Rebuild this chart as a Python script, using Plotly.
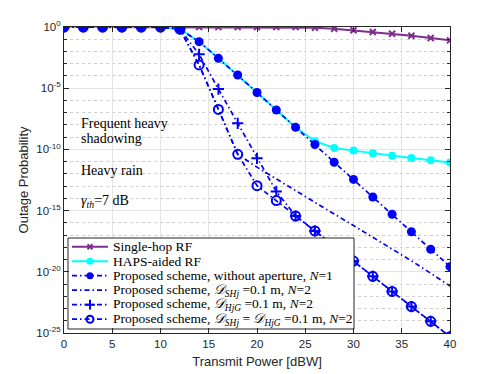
import plotly.graph_objects as go

# transmit power grid (dBW)
power = [0, 2, 4, 6, 8, 10, 12, 14, 16, 18, 20, 22, 24, 26, 28, 30, 32, 34, 36, 38, 40]

single_hop_log = [0, 0, 0, 0, 0, 0, 0, 0, 0, 0, 0, 0, 0, -0.06, -0.14, -0.27,
                  -0.41, -0.55, -0.71, -0.90, -1.09]
haps_log = [0, 0, 0, 0, 0, 0, -0.17, -1.2, -2.56, -3.92, -5.35, -6.78, -8.2,
            -9.33, -9.88, -10.1, -10.32, -10.51, -10.7, -10.89, -11.08]
no_aperture_log = [0, 0, 0, 0, 0, 0, -0.17, -1.2, -2.56, -3.92, -5.35, -6.78, -8.2,
                   -9.6, -11.05, -12.45, -13.89, -15.3, -16.73, -18.16, -19.58]
d_sh_log = [0, 0, 0, 0, 0, 0, -0.17, -3.1, -6.73, -10.4, -11.45, -12.42, -13.38,
            -14.33, -15.28, -16.22, -17.17, -18.12, -19.1, -20.12, -21.16]
d_hg_log = [0, 0, 0, 0, 0, 0, -0.17, -2.23, -5.07, -7.87, -10.73, -13.43, -15.44,
            -16.66, -17.9, -19.12, -20.37, -21.6, -22.84, -24.05, -25.3]
d_both_log = [0, 0, 0, 0, 0, 0, -0.17, -3.1, -6.73, -10.4, -12.96, -14.18, -15.44,
              -16.66, -17.9, -19.12, -20.37, -21.6, -22.84, -24.05, -25.3]

series_names = [
    "Single-hop RF",
    "HAPS-aided RF",
    "Proposed scheme, without aperture, <i>N</i>=1",
    "Proposed scheme, <i>𝒟<sub>SHj</sub></i> =0.1 m, <i>N</i>=2",
    "Proposed scheme, <i>𝒟<sub>HjG</sub></i> =0.1 m, <i>N</i>=2",
    "Proposed scheme, <i>𝒟<sub>SHj</sub></i> = <i>𝒟<sub>HjG</sub></i> =0.1 m, <i>N</i>=2",
]

ytick_exp = [0, -5, -10, -15, -20, -25]
minor_exp = list(range(-25, 1))

BLUE = "#0000FF"
PURPLE = "#7E2F8E"
CYAN = "#00FFFF"
DASH = "5px,3px,1.5px,3px"
serif = "Liberation Serif"
sans = "Liberation Sans"

# style per series: line, marker (None = no marker), marker size in the key
styles = [
    (dict(color=PURPLE, width=2),
     dict(symbol="x-thin", size=6, color=PURPLE, line=dict(color=PURPLE, width=2)), 5),
    (dict(color=CYAN, width=2), dict(symbol="circle", size=8, color=CYAN), 7),
    (dict(color=BLUE, width=1.7, dash=DASH), dict(symbol="circle", size=9, color=BLUE), 7),
    (dict(color=BLUE, width=1.7, dash=DASH), None, 0),
    (dict(color=BLUE, width=1.7, dash=DASH),
     dict(symbol="cross-thin", size=8, color=BLUE, line=dict(color=BLUE, width=2)), 7),
    (dict(color=BLUE, width=1.7, dash=DASH),
     dict(symbol="circle-open", size=9, color=BLUE, line=dict(color=BLUE, width=2)), 7),
]
all_logs = [single_hop_log, haps_log, no_aperture_log, d_sh_log, d_hg_log, d_both_log]


def lin(vals):
    return [10 ** v for v in vals]


fig = go.Figure()
for name, vals, (line, marker, _) in zip(series_names, all_logs, styles):
    fig.add_trace(go.Scatter(
        x=power, y=lin(vals), name=name,
        mode="lines+markers" if marker else "lines",
        line=line, marker=marker or {}, showlegend=False,
    ))

# compact legend drawn on an overlay axis measured in plot pixels
PLOT_W, PLOT_H = 386, 306
box_x0, box_x1, box_y0, box_y1 = 4, 290, 4, 95
row_top, row_step = 86.3, 14.5
fig.add_trace(go.Scatter(
    x=[box_x0, box_x1, box_x1, box_x0, box_x0],
    y=[box_y0, box_y0, box_y1, box_y1, box_y0],
    mode="lines", fill="toself", fillcolor="white",
    line=dict(color="#262626", width=1),
    xaxis="x2", yaxis="y2", showlegend=False, hoverinfo="skip",
))
for i, (name, (line, marker, key_size)) in enumerate(zip(series_names, styles)):
    yk = row_top - i * row_step
    fig.add_trace(go.Scatter(
        x=[8, 44], y=[yk, yk], mode="lines", line=line,
        xaxis="x2", yaxis="y2", showlegend=False, hoverinfo="skip",
    ))
    if marker:
        m = dict(marker)
        m["size"] = key_size
        fig.add_trace(go.Scatter(
            x=[26], y=[yk], mode="markers", marker=m,
            xaxis="x2", yaxis="y2", showlegend=False, hoverinfo="skip",
        ))
    fig.add_annotation(text=name, x=47 / PLOT_W, y=yk / PLOT_H, xref="paper", yref="paper",
                       xanchor="left", yanchor="middle", showarrow=False,
                       font=dict(family=serif, size=13.5, color="black"))

notes = [
    ("Frequent heavy", 0.686),
    ("shadowing", 0.637),
    ("Heavy rain", 0.531),
    ("<i>γ<sub>th</sub></i>=7 dB", 0.43),
]
for txt, yp in notes:
    fig.add_annotation(text=txt, x=0.04, y=yp, xref="paper", yref="paper",
                       xanchor="left", yanchor="middle", showarrow=False,
                       font=dict(family=serif, size=14, color="black"))

axis_common = dict(
    showline=True, linecolor="#262626", linewidth=1, mirror="ticks",
    ticks="inside", ticklen=5, tickcolor="#262626",
    gridcolor="#e3e3e3", gridwidth=1, zeroline=False, automargin=False,
    tickfont=dict(family=sans, size=11.5, color="#262626"),
)

fig.update_xaxes(
    range=[0, 40], tickvals=list(range(0, 41, 5)),
    title=dict(text="Transmit Power [dBW]", standoff=8,
               font=dict(family=sans, size=13, color="#262626")),
    **axis_common,
)
fig.update_yaxes(
    type="log", range=[-25, 0],
    tickvals=[10 ** e for e in ytick_exp],
    ticktext=["10<sup>%d</sup>" % e for e in ytick_exp],
    minor=dict(tickvals=[10 ** e for e in minor_exp], showgrid=True,
               gridcolor="#d0d0d0", griddash="dot", ticks="inside",
               ticklen=3, tickcolor="#262626"),
    title=dict(text="Outage Probability", standoff=4,
               font=dict(family=sans, size=13, color="#262626")),
    **axis_common,
)

# the page body adds an 8px offset, so margins are trimmed to match
fig.update_layout(
    width=490, height=366,
    margin=dict(l=56, r=48, t=19, b=41),
    plot_bgcolor="white", paper_bgcolor="white",
    showlegend=False,
    xaxis2=dict(overlaying="x", range=[0, PLOT_W], visible=False, fixedrange=True),
    yaxis2=dict(overlaying="y", range=[0, PLOT_H], visible=False, fixedrange=True),
)

fig.write_html("out.html")
